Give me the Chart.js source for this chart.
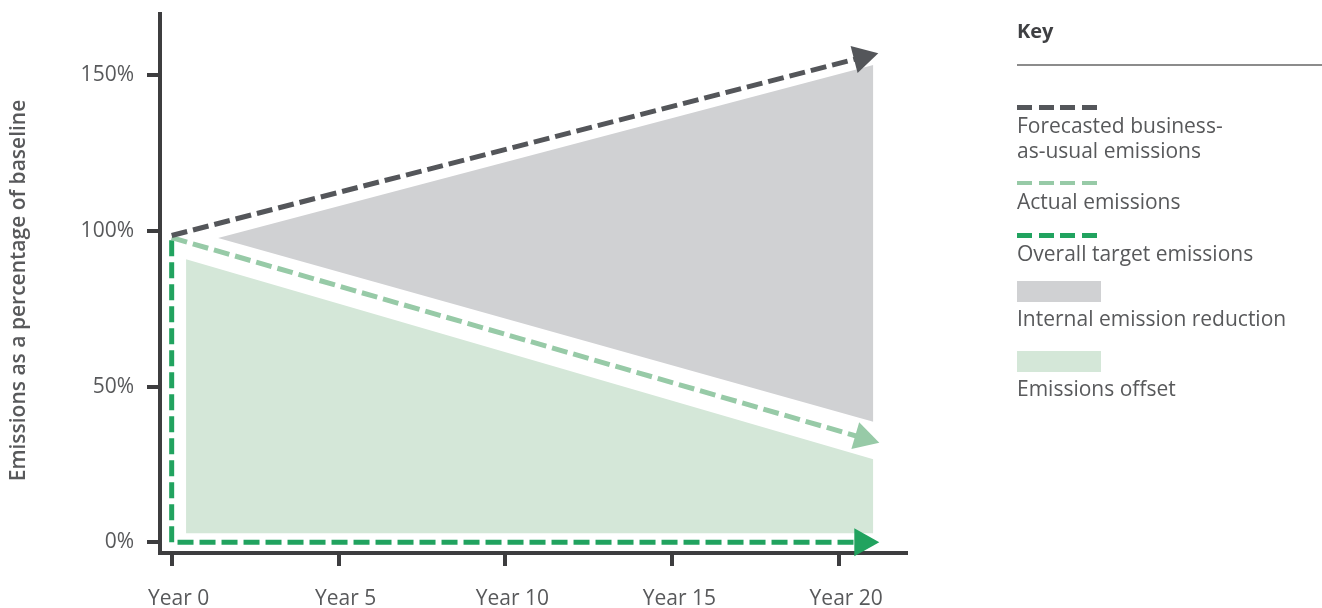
<!DOCTYPE html>
<html>
<head>
<meta charset="utf-8">
<script src="https://cdn.jsdelivr.net/npm/chart.js@4.4.1/dist/chart.umd.min.js"></script>
<style>
  html, body { margin: 0; padding: 0; background: #fff; }
  #wrap { position: relative; width: 1322px; height: 608px; font-family: 'Open Sans', sans-serif; color: #58595b; overflow: hidden; }
  #wrap canvas { position: absolute; left: 0; top: 0; }
  .key-title { position: absolute; left: 1017px; top: 21px; font-size: 20px; line-height: 20px; font-weight: 700; color: #3f4043; }
  .key-rule { position: absolute; left: 1017px; top: 64px; width: 305px; height: 2px; background: #8c8c8c; }
  .key-swatch { position: absolute; left: 1017px; }
  .key-label { position: absolute; left: 1017px; font-size: 21px; line-height: 25px; white-space: nowrap; color: #58595b; }
</style>
</head>
<body>
<div id="wrap">
  <canvas id="chart" width="1322" height="608"></canvas>
  <div id="key"></div>
</div>
<script>
// Axis ticks
const yearTicks = [0, 5, 10, 15, 20];
const yearLabels = ['Year 0', 'Year 5', 'Year 10', 'Year 15', 'Year 20'];
const pctTicks = [0, 50, 100, 150];
const pctLabels = ['0%', '50%', '100%', '150%'];
const yAxisTitle = 'Emissions as a percentage of baseline';

// Series names (key order)
const seriesNames = [
  'Forecasted business-as-usual emissions',
  'Actual emissions',
  'Overall target emissions',
  'Internal emission reduction',
  'Emissions offset'
];

// Forecasted business-as-usual emissions (year, % of baseline)
const bauYears = [0, 21.17];
const bauValues = [98.5, 157];

// Actual emissions
const actualYears = [0, 21.2];
const actualValues = [97.8, 32];

// Overall target emissions
const targetYears = [0, 0, 21.2];
const targetValues = [97, 0, 0];

// Internal emission reduction band
const reductionYears = [1.39, 21.02];
const reductionUpper = [97.7, 153.2];
const reductionLower = [97.7, 38.7];

// Emissions offset band
const offsetYears = [0.43, 21.02];
const offsetUpper = [90.9, 26.7];
const offsetLower = [2.9, 2.9];

const COLORS = {
  bau: '#54565a',
  actual: '#97caa7',
  target: '#21a35f',
  reduction: '#d0d1d3',
  offset: '#d4e7d8',
  axis: '#3d3d3f',
  text: '#58595b'
};
const FONT = "'Open Sans', sans-serif";

const pts = (xs, ys) => xs.map((x, i) => ({ x, y: ys[i] }));

const dashed = (label, xs, ys, color) => ({
  label, data: pts(xs, ys), borderColor: color, backgroundColor: color,
  borderWidth: 5, borderDash: [16, 6], borderCapStyle: 'butt', borderJoinStyle: 'miter',
  fill: false, pointRadius: 0, arrowHead: true
});

const band = (label, xs, ys, color, fill) => ({
  label, data: pts(xs, ys), borderWidth: 0, borderColor: 'rgba(0,0,0,0)',
  backgroundColor: color, fill, pointRadius: 0
});

// Arrow heads at the end of the dashed series; the dash is trimmed under the head
const ARROW_LEN = 25, ARROW_HALF = 14;
function arrowGeom(chart, i) {
  const els = chart.getDatasetMeta(i).data;
  const a = els[els.length - 2], b = els[els.length - 1];
  const ang = Math.atan2(b.y - a.y, b.x - a.x);
  return { tip: { x: b.x, y: b.y }, ang };
}
const arrowHeads = {
  id: 'arrowHeads',
  beforeDatasetDraw(chart, args) {
    const ds = chart.data.datasets[args.index];
    if (!ds.arrowHead) return;
    const { tip, ang } = arrowGeom(chart, args.index);
    const ctx = chart.ctx;
    ctx.save();
    ctx.translate(tip.x, tip.y);
    ctx.rotate(ang);
    ctx.beginPath();
    ctx.rect(-5000, -5000, 5000 - ARROW_LEN + 4, 10000);
    ctx.rotate(-ang);
    ctx.translate(-tip.x, -tip.y);
    ctx.clip();
  },
  afterDatasetDraw(chart, args) {
    const ds = chart.data.datasets[args.index];
    if (!ds.arrowHead) return;
    const ctx = chart.ctx;
    ctx.restore();
    const { tip, ang } = arrowGeom(chart, args.index);
    ctx.save();
    ctx.translate(tip.x, tip.y);
    ctx.rotate(ang);
    ctx.beginPath();
    ctx.moveTo(0, 0);
    ctx.lineTo(-ARROW_LEN, -ARROW_HALF);
    ctx.lineTo(-ARROW_LEN, ARROW_HALF);
    ctx.closePath();
    ctx.fillStyle = ds.borderColor;
    ctx.fill();
    ctx.restore();
  }
};

// Rotated y-axis title, centred a little below the middle of the plot
const yTitle = {
  id: 'yTitle',
  afterDraw(chart) {
    const { ctx, chartArea } = chart;
    ctx.save();
    ctx.translate(19, (chartArea.top + chartArea.bottom) / 2 + 7);
    ctx.rotate(-Math.PI / 2);
    ctx.font = "600 21px 'Open Sans', sans-serif";
    ctx.fillStyle = COLORS.text;
    ctx.textAlign = 'center';
    ctx.textBaseline = 'middle';
    ctx.fillText(yAxisTitle, 0, 0);
    ctx.restore();
  }
};

const tickFont = { family: FONT, size: 21 };

new Chart(document.getElementById('chart'), {
  type: 'line',
  data: {
    datasets: [
      dashed(seriesNames[0], bauYears, bauValues, COLORS.bau),
      dashed(seriesNames[1], actualYears, actualValues, COLORS.actual),
      dashed(seriesNames[2], targetYears, targetValues, COLORS.target),
      band(seriesNames[3], reductionYears, reductionUpper, COLORS.reduction, '+1'),
      band(seriesNames[3] + ' (lower)', reductionYears, reductionLower, 'rgba(0,0,0,0)', false),
      band(seriesNames[4], offsetYears, offsetUpper, COLORS.offset, '+1'),
      band(seriesNames[4] + ' (lower)', offsetYears, offsetLower, 'rgba(0,0,0,0)', false)
    ]
  },
  options: {
    responsive: false,
    animation: false,
    devicePixelRatio: 1,
    layout: { padding: { top: 14, right: 416, left: 0, bottom: 0 } },
    plugins: { legend: { display: false }, tooltip: { enabled: false } },
    elements: { line: { tension: 0 }, point: { radius: 0 } },
    scales: {
      x: {
        type: 'linear', min: -0.35, max: 22,
        afterBuildTicks: s => { s.ticks = yearTicks.map(v => ({ value: v })); },
        afterFit: s => { s.height = 55; s.paddingLeft = 0; s.paddingRight = 0; },
        border: { display: true, width: 4, color: COLORS.axis },
        grid: { drawOnChartArea: false, drawTicks: true, tickLength: 13, lineWidth: 4, tickWidth: 4, tickColor: COLORS.axis, color: COLORS.axis },
        ticks: {
          autoSkip: false, maxRotation: 0, labelOffset: 7, padding: 20,
          color: COLORS.text, font: tickFont,
          callback: v => yearLabels[yearTicks.indexOf(v)]
        }
      },
      y: {
        type: 'linear', min: -3.43, max: 169.6,
        afterBuildTicks: s => { s.ticks = pctTicks.map(v => ({ value: v })); },
        afterFit: s => { s.width = 160; s.paddingTop = 0; s.paddingBottom = 0; },
        border: { display: true, width: 4, color: COLORS.axis },
        grid: { drawOnChartArea: false, drawTicks: true, tickLength: 13, lineWidth: 4, tickWidth: 4, tickColor: COLORS.axis, color: COLORS.axis },
        ticks: {
          autoSkip: false, padding: 13,
          color: COLORS.text, font: tickFont,
          callback: v => pctLabels[pctTicks.indexOf(v)]
        }
      }
    }
  },
  plugins: [arrowHeads, yTitle]
});

// Key
const keyItems = [
  { kind: 'dash', color: COLORS.bau, lines: ['Forecasted business-', 'as-usual emissions'], swatchY: 105, textTop: 113 },
  { kind: 'dash', color: COLORS.actual, lines: [seriesNames[1]], swatchY: 180.5, textTop: 189 },
  { kind: 'dash', color: COLORS.target, lines: [seriesNames[2]], swatchY: 233, textTop: 241 },
  { kind: 'box', color: COLORS.reduction, lines: [seriesNames[3]], swatchY: 281, textTop: 306 },
  { kind: 'box', color: COLORS.offset, lines: [seriesNames[4]], swatchY: 351, textTop: 376 }
];
const key = document.getElementById('key');
let html = '<div class="key-title">Key</div><div class="key-rule"></div>';
keyItems.forEach(it => {
  if (it.kind === 'dash') {
    html += `<div class="key-swatch" style="top:${it.swatchY}px;width:81px;height:4.5px;background:repeating-linear-gradient(to right, ${it.color} 0 15px, transparent 15px 21.7px);"></div>`;
  } else {
    html += `<div class="key-swatch" style="top:${it.swatchY}px;width:84px;height:21px;background:${it.color};"></div>`;
  }
  html += `<div class="key-label" style="top:${it.textTop}px;">${it.lines.join('<br>')}</div>`;
});
key.innerHTML = html;
</script>
</body>
</html>
